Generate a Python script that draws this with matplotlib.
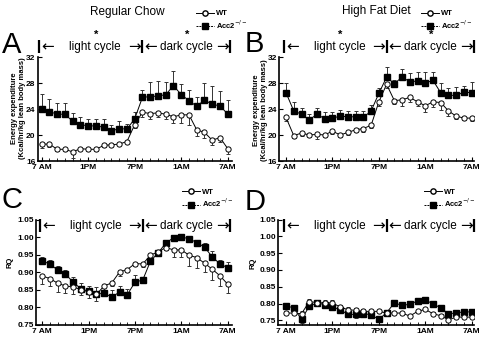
import matplotlib
matplotlib.use("Agg")
import matplotlib.pyplot as plt
import matplotlib.transforms as mtransforms
from matplotlib.lines import Line2D

plt.rcParams['font.family'] = ['Liberation Sans', 'DejaVu Sans']

# Hourly samples, 7 AM to 7 AM next day
hours = list(range(25))
tick_pos = [0, 6, 12, 18, 24]
tick_labels = ["7 AM", "1PM", "7PM", "1AM", "7AM"]

# Energy expenditure (Kcal/hr/kg lean body mass), regular chow
chow_ee_wt = [18.6, 18.6, 17.8, 17.8, 17.4, 17.9, 17.8, 17.8, 18.4, 18.5, 18.6, 19.0, 21.6,
              23.5, 23.3, 23.4, 23.2, 22.8, 23.1, 23.1, 20.8, 20.4, 19.2, 19.6, 17.9]
chow_ee_wt_sem = [0.6, 0.4, 0.2, 0.2, 0.9, 0.2, 0.2, 0.2, 0.2, 0.2, 0.2, 0.2, 0.5,
                  0.8, 0.8, 0.6, 0.7, 1.0, 1.2, 1.6, 1.0, 0.8, 0.8, 0.7, 0.8]
chow_ee_ko = [24.0, 23.6, 23.2, 23.2, 22.1, 21.6, 21.4, 21.4, 21.2, 20.6, 21.0, 20.9, 22.5,
              25.8, 25.9, 26.0, 26.2, 27.6, 26.2, 25.3, 24.4, 25.4, 24.7, 24.5, 23.2]
chow_ee_ko_sem = [2.3, 1.9, 1.8, 1.8, 1.3, 1.1, 1.1, 1.0, 1.2, 1.0, 1.1, 0.8, 1.0,
                  1.1, 2.3, 2.3, 2.0, 2.3, 1.7, 1.7, 1.5, 2.6, 2.9, 2.2, 2.2]

# Energy expenditure, high fat diet
hfd_ee_wt = [22.7, 19.9, 20.3, 20.0, 20.1, 20.0, 20.6, 20.0, 20.4, 20.8, 21.0, 21.5, 25.1,
             27.8, 25.3, 25.4, 25.8, 25.1, 24.5, 25.1, 25.0, 23.7, 22.9, 22.6, 22.6]
hfd_ee_wt_sem = [0.5, 0.4, 0.4, 0.3, 0.7, 0.3, 0.4, 0.3, 0.4, 0.4, 0.5, 0.4, 0.6,
                 0.6, 0.6, 0.9, 0.7, 0.6, 0.9, 0.8, 1.2, 0.8, 0.5, 0.3, 0.4]
hfd_ee_ko = [26.5, 23.7, 23.2, 22.3, 23.2, 22.5, 22.6, 22.9, 22.8, 22.8, 22.7, 23.7, 26.4,
             28.9, 27.9, 28.9, 28.2, 28.3, 28.0, 28.4, 26.5, 26.1, 26.1, 26.6, 26.5]
hfd_ee_ko_sem = [1.5, 1.4, 0.9, 0.9, 1.0, 1.0, 0.9, 1.0, 0.9, 0.9, 1.0, 0.9, 0.8,
                 1.6, 0.6, 1.3, 1.4, 1.4, 1.7, 1.3, 1.5, 1.1, 1.3, 1.0, 1.6]

# Respiratory quotient, regular chow
chow_rq_wt = [0.889, 0.881, 0.868, 0.860, 0.857, 0.850, 0.843, 0.836, 0.860, 0.869, 0.900, 0.907, 0.924,
              0.923, 0.948, 0.958, 0.970, 0.963, 0.963, 0.948, 0.941, 0.925, 0.908, 0.889, 0.865]
chow_rq_wt_sem = [0.022, 0.020, 0.024, 0.020, 0.020, 0.015, 0.018, 0.018, 0.010, 0.010, 0.010, 0.006, 0.008,
                  0.010, 0.005, 0.005, 0.008, 0.020, 0.020, 0.030, 0.030, 0.025, 0.030, 0.030, 0.025]
chow_rq_ko = [0.931, 0.923, 0.905, 0.894, 0.871, 0.852, 0.845, 0.836, 0.840, 0.828, 0.843, 0.835, 0.871,
              0.877, 0.931, 0.955, 0.983, 0.998, 1.000, 0.995, 0.984, 0.971, 0.943, 0.923, 0.912]
chow_rq_ko_sem = [0.012, 0.012, 0.012, 0.013, 0.014, 0.016, 0.015, 0.020, 0.020, 0.020, 0.018, 0.016, 0.020,
                  0.010, 0.008, 0.006, 0.005, 0.003, 0.003, 0.004, 0.008, 0.012, 0.016, 0.012, 0.016]

# Respiratory quotient, high fat diet
hfd_rq_wt = [0.772, 0.772, 0.770, 0.806, 0.803, 0.802, 0.802, 0.790, 0.782, 0.780, 0.777, 0.777, 0.777,
             0.772, 0.772, 0.772, 0.763, 0.777, 0.783, 0.770, 0.764, 0.752, 0.760, 0.760, 0.760]
hfd_rq_wt_sem = [0.005, 0.004, 0.007, 0.008, 0.007, 0.008, 0.008, 0.006, 0.008, 0.008, 0.008, 0.005, 0.004,
                 0.004, 0.004, 0.004, 0.004, 0.004, 0.004, 0.004, 0.004, 0.006, 0.005, 0.004, 0.004]
hfd_rq_ko = [0.794, 0.787, 0.753, 0.792, 0.802, 0.797, 0.790, 0.782, 0.768, 0.768, 0.770, 0.767, 0.753,
             0.773, 0.802, 0.795, 0.798, 0.808, 0.810, 0.800, 0.787, 0.770, 0.772, 0.776, 0.775]
hfd_rq_ko_sem = [0.004, 0.004, 0.010, 0.008, 0.005, 0.006, 0.008, 0.008, 0.008, 0.010, 0.008, 0.008, 0.004,
                 0.004, 0.003, 0.003, 0.003, 0.003, 0.003, 0.003, 0.003, 0.003, 0.003, 0.003, 0.003]

W, H = 480, 340
fig = plt.figure(figsize=(W / 100, H / 100), dpi=100)


def add_axes_px(left, top, right, bottom):
    return fig.add_axes([left / W, 1 - bottom / H, (right - left) / W, (bottom - top) / H])


def fx(x):
    return x / W


def fy(y):
    return 1 - y / H


TICK_FS = 6


def style_axes(ax, xlim, ylim, yticks, yfmt):
    ax.set_xlim(*xlim)
    ax.set_ylim(*ylim)
    for s in ("top", "right"):
        ax.spines[s].set_visible(False)
    for s in ("left", "bottom"):
        ax.spines[s].set_linewidth(1.2)
    ax.set_xticks(tick_pos)
    ax.set_xticklabels(tick_labels, fontsize=TICK_FS, fontweight="bold")
    ax.set_xticks(hours, minor=True)
    ax.set_yticks(yticks)
    ax.set_yticklabels([yfmt.format(v) for v in yticks], fontsize=TICK_FS, fontweight="bold")
    ax.tick_params(axis="x", which="major", direction="in", length=3, width=0.8, pad=2.5)
    ax.tick_params(axis="x", which="minor", direction="in", length=2, width=0.6)
    ax.tick_params(axis="y", which="major", direction="in", length=3, width=0.8, pad=1.5)


def draw_series(ax, x, wt, wt_err, ko, ko_err, wt_up=False):
    zeros = [0] * len(x)
    wt_yerr = [zeros, wt_err] if wt_up else [wt_err, zeros]
    ko_yerr = [ko_err, zeros] if wt_up else [zeros, ko_err]
    ax.errorbar(x, wt, yerr=wt_yerr, fmt="none", ecolor="#333333", elinewidth=0.7,
                capsize=1.6, capthick=0.7, zorder=2)
    ax.errorbar(x, ko, yerr=ko_yerr, fmt="none", ecolor="#333333", elinewidth=0.7,
                capsize=1.6, capthick=0.7, zorder=2)
    ax.plot(x, ko, color="black", lw=0.7, marker="s", ms=4.0, mfc="black", mec="black", zorder=3)
    ax.plot(x, wt, color="black", lw=0.7, marker="o", ms=3.8, mfc="white", mec="black",
            mew=0.7, zorder=4)


def cycle_marks(ax, bar_y0, bar_y1, text_y, stars_y=None):
    tr = mtransforms.blended_transform_factory(ax.transData, ax.transAxes)
    for xb in (-0.3, 13.0, 24.3):
        ax.plot([xb, xb], [bar_y0, bar_y1], transform=tr, color="black", lw=1.6,
                clip_on=False, solid_capstyle="butt")
    akw = dict(transform=tr, fontsize=11, va="center", clip_on=False,
               family=["DejaVu Sans"])
    ax.text(0.0, text_y, "\u2190", ha="left", **akw)
    ax.text(12.8, text_y, "\u2192", ha="right", **akw)
    ax.text(13.2, text_y, "\u2190", ha="left", **akw)
    ax.text(24.1, text_y, "\u2192", ha="right", **akw)
    tkw = dict(transform=tr, fontsize=8.5, va="center", clip_on=False)
    ax.text(6.9, text_y, "light cycle", ha="center", **tkw)
    ax.text(18.7, text_y, "dark cycle", ha="center", **tkw)
    if stars_y is not None:
        for xs in (7.0, 18.8):
            ax.text(xs, stars_y, "*", transform=tr, fontsize=8, fontweight="bold",
                    ha="center", va="center", clip_on=False)


def legend_px(ax, x, y):
    handles = [
        Line2D([], [], color="black", lw=0.7, marker="o", ms=3.8, mfc="white", mec="black"),
        Line2D([], [], color="black", lw=0.7, ls=(0, (2, 1)), marker="s", ms=4.0, mfc="black"),
    ]
    ax.legend(handles, ["WT", "Acc2$^{-/-}$"], loc="upper left",
              bbox_to_anchor=(fx(x), fy(y)), bbox_transform=fig.transFigure,
              frameon=False, borderpad=0, borderaxespad=0, handlelength=2.3,
              handletextpad=0.3, labelspacing=0.15,
              prop={"size": 5.5, "weight": "bold"})


ee_ticks = [16, 20, 24, 28, 32]
rq_ticks = [0.75, 0.80, 0.85, 0.90, 0.95, 1.00, 1.05]

# A: energy expenditure, regular chow
axA = add_axes_px(37.5, 57, 232, 161)
style_axes(axA, (-0.54, 24.55), (16, 32), ee_ticks, "{:d}")
draw_series(axA, hours, chow_ee_wt, chow_ee_wt_sem, chow_ee_ko, chow_ee_ko_sem)
cycle_marks(axA, 1.036, 1.163, 1.099, stars_y=1.21)
legend_px(axA, 196, 10)

# B: energy expenditure, high fat diet
axB = add_axes_px(279.3, 57, 474, 161)
style_axes(axB, (-0.87, 24.3), (16, 32), ee_ticks, "{:d}")
draw_series(axB, hours, hfd_ee_wt, hfd_ee_wt_sem, hfd_ee_ko, hfd_ee_ko_sem)
cycle_marks(axB, 1.036, 1.163, 1.099, stars_y=1.21)
legend_px(axB, 421, 10)

# C: respiratory quotient, regular chow
axC = add_axes_px(36, 219.5, 232, 324.5)
style_axes(axC, (-0.81, 24.55), (0.75, 1.05), rq_ticks, "{:.2f}")
draw_series(axC, hours, chow_rq_wt, chow_rq_wt_sem, chow_rq_ko, chow_rq_ko_sem)
cycle_marks(axC, 0.884, 1.005, 0.938)
legend_px(axC, 182, 188.5)

# D: respiratory quotient, high fat diet
axD = add_axes_px(278.3, 219.5, 474, 324.5)
style_axes(axD, (-1.0, 24.3), (0.738, 1.05), rq_ticks, "{:.2f}")
draw_series(axD, hours, hfd_rq_wt, hfd_rq_wt_sem, hfd_rq_ko, hfd_rq_ko_sem, wt_up=True)
cycle_marks(axD, 0.884, 1.005, 0.938)
legend_px(axD, 424, 188.5)

# Column headers and panel letters
fig.text(fx(127), fy(12), "Regular Chow", fontsize=8.5, ha="center", va="center")
fig.text(fx(376.7), fy(11), "High Fat Diet", fontsize=8.5, ha="center", va="center")
for letter, x, yb in (("A", 1.5, 53.3), ("B", 244.5, 52.5), ("C", 1.5, 208.5), ("D", 244.5, 210.5)):
    fig.text(fx(x), fy(yb), letter, fontsize=21, ha="left", va="baseline")

# Y-axis titles
ee_label = "Energy expenditure\n(Kcal/hr/kg lean body mass)"
fig.text(fx(19), fy(108), ee_label, rotation=90, fontsize=5.5, fontweight="bold",
         ha="center", va="center", linespacing=1.2)
fig.text(fx(261), fy(110), ee_label, rotation=90, fontsize=5.5, fontweight="bold",
         ha="center", va="center", linespacing=1.2)
fig.text(fx(10), fy(262), "RQ", rotation=90, fontsize=5.5, fontweight="bold",
         ha="center", va="center")
fig.text(fx(253), fy(263), "RQ", rotation=90, fontsize=5.5, fontweight="bold",
         ha="center", va="center")

fig.savefig("out.png", dpi=100)
